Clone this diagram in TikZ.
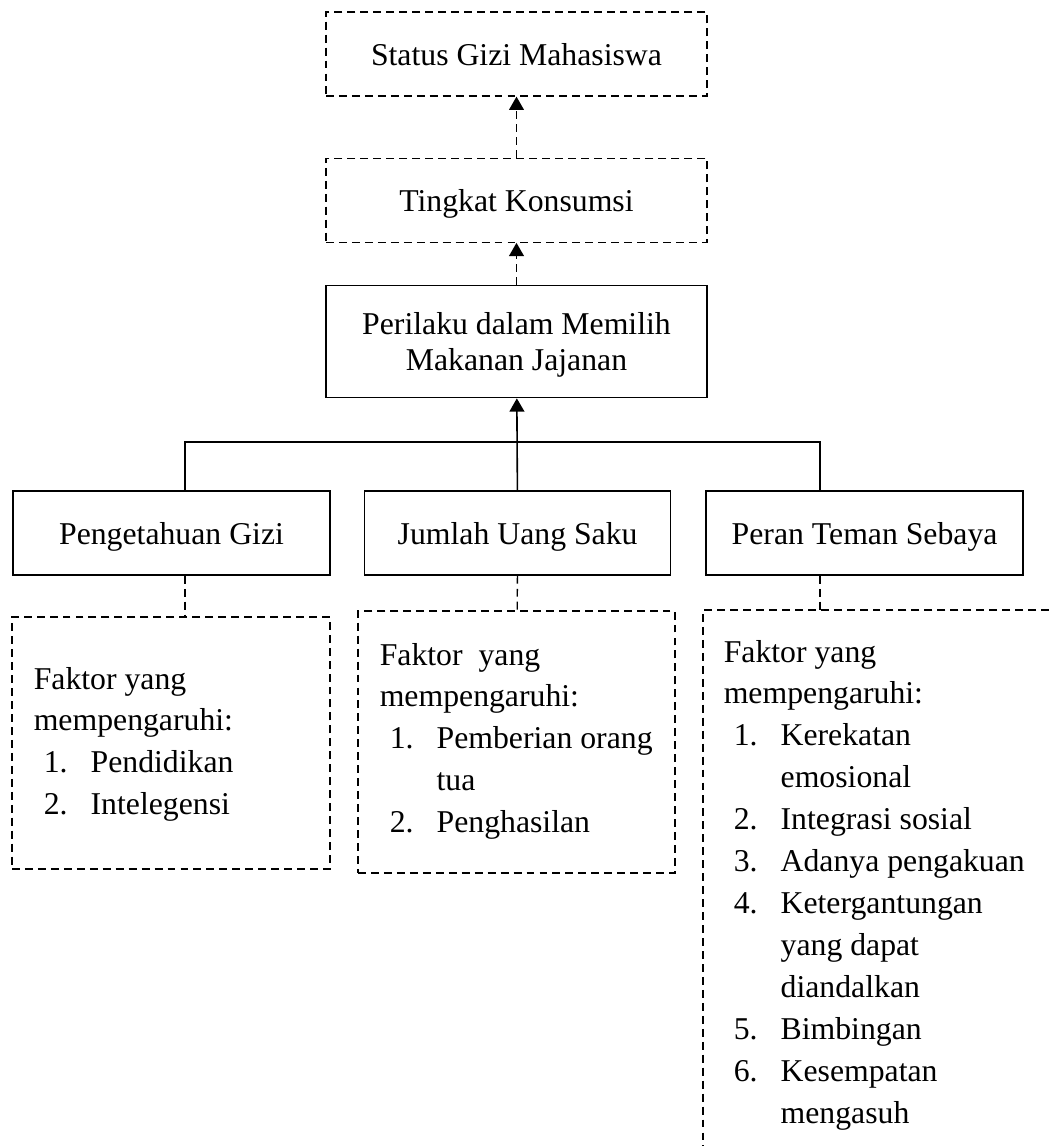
\documentclass[tikz,border=0pt]{standalone}
\usepackage{fontspec}
\setmainfont{Liberation Serif}
\usetikzlibrary{positioning,arrows.meta}

\newcommand{\litem}[2]{\makebox[21.5pt][l]{\hspace{3.8pt}#1}#2}
\newcommand{\lcont}[1]{\hspace{21.5pt}#1}

\begin{document}
\begin{tikzpicture}[x=0.378pt, y=-0.378pt, node distance=23pt, line width=0.6pt,
                    >={Triangle[length=5pt,width=5.6pt]},
                    main box/.style={rectangle,draw,minimum width=144pt,minimum height=31.75pt,
                                     text height=9pt,text depth=0.2pt,font=\fontsize{12}{13.6}\selectfont},
                    dash box/.style={main box,dash pattern=on 3pt off 1.9pt,line width=0.5pt},
                    leaf box/.style={main box,minimum width=119.8pt},
                    info box/.style={rectangle,draw,dash pattern=on 3pt off 1.9pt,line width=0.5pt},
                    info text/.style={anchor=base west,inner sep=0pt,font=\fontsize{12}{15.87}\selectfont}]

  \useasboundingbox (0,0) rectangle (1049,1146);

  \node[dash box] (status) at (516.5,54) {Status Gizi Mahasiswa};
  \node[dash box] (konsumsi) [below=of status] {Tingkat Konsumsi};
  \node[main box,minimum height=42.3pt,align=center,text height=,text depth=0pt] (perilaku)
       [below=15.9pt of konsumsi] {Perilaku dalam Memilih\\Makanan Jajanan};

  \node[leaf box] (pengetahuan) at (171.5,533) {Pengetahuan Gizi};
  \node[leaf box,minimum width=115.7pt] (uang) [right=12.5pt of pengetahuan] {Jumlah Uang Saku};
  \node[leaf box] (teman) [right=12.8pt of uang] {Peran Teman Sebaya};

  \node[info box,minimum width=120.2pt,minimum height=95.3pt] (infoA) at (171,743) {};
  \node[info box,minimum width=119.8pt,minimum height=99pt] (infoB) at (516.5,742) {};
  \coordinate (infoC) at (703,610);
  \coordinate (infoCend) at (1049,610);
  \coordinate (infoCfoot) at (703,1146);
  \draw[info box] (infoCend) -- (infoC) -- (infoCfoot);

  \coordinate (jL) at (185,442);
  \coordinate (jR) at (820,442);

  \draw[->,dash pattern=on 3pt off 1.9pt,line width=0.5pt] (konsumsi) -- (status);
  \draw[->,dash pattern=on 3pt off 1.9pt,line width=0.5pt] (perilaku) -- (konsumsi);
  \draw[->] (uang) -- (perilaku);
  \draw (pengetahuan.north -| jL) -- (jL) -- (jR) -- (teman.north -| jR);

  \path[dash pattern=on 3pt off 1.9pt,line width=0.5pt]
    (pengetahuan.south -| jL) edge (infoA.north -| jL)
    (uang) edge (infoB)
    (teman.south -| jR) edge (jR |- infoC);

  \node[info text] (faktorA) at (33,689) {\begin{tabular}[t]{@{}l@{}}
    Faktor yang\\ mempengaruhi:\\ \litem{1.}{Pendidikan}\\ \litem{2.}{Intelegensi}
  \end{tabular}};
  \node[info text] (faktorB) at (379,665) {\begin{tabular}[t]{@{}l@{}}
    Faktor~ yang\\ mempengaruhi:\\ \litem{1.}{Pemberian orang}\\ \lcont{tua}\\ \litem{2.}{Penghasilan}
  \end{tabular}};
  \node[info text] (faktorC) at (723,662) {\begin{tabular}[t]{@{}l@{}}
    Faktor yang\\ mempengaruhi:\\ \litem{1.}{Kerekatan}\\ \lcont{emosional}\\
    \litem{2.}{Integrasi sosial}\\ \litem{3.}{Adanya pengakuan}\\ \litem{4.}{Ketergantungan}\\
    \lcont{yang dapat}\\ \lcont{diandalkan}\\ \litem{5.}{Bimbingan}\\ \litem{6.}{Kesempatan}\\
    \lcont{mengasuh}
  \end{tabular}};
\end{tikzpicture}
\end{document}
